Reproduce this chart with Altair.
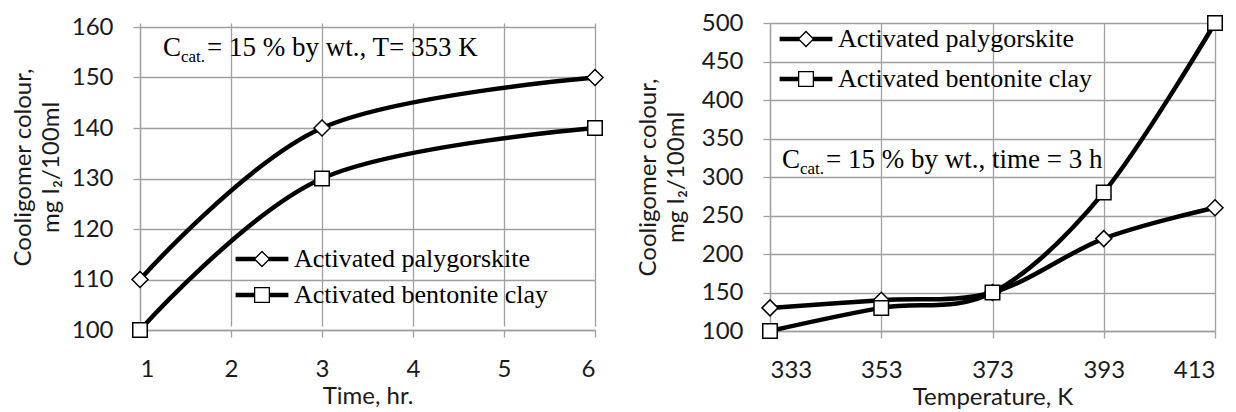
import altair as alt
import pandas as pd

# ---------------- data ----------------
series_names = ["Activated palygorskite", "Activated bentonite clay"]

time_hr = [1, 3, 6]
paly_time = [110, 140, 150]
bento_time = [100, 130, 140]

temp_k = [333, 353, 373, 393, 413]
paly_temp = [130, 140, 150, 220, 260]
bento_temp = [100, 130, 150, 280, 500]

time_ticks = [1, 2, 3, 4, 5, 6]
time_y_ticks = [100, 110, 120, 130, 140, 150, 160]
temp_ticks = [333, 353, 373, 393, 413]
temp_y_ticks = [100, 150, 200, 250, 300, 350, 400, 450, 500]

x_title_left = "Time, hr."
x_title_right = "Temperature, K"
y_title = ["Cooligomer colour,", "mg I\u2082/100ml"]

ann_left = ["C", "cat.", " = 15 % by wt., T= 353 K"]
ann_right = ["C", "cat.", " = 15 % by wt., time = 3 h"]

df_time = pd.DataFrame({
    "x": time_hr + time_hr,
    "y": paly_time + bento_time,
    "series": [series_names[0]] * len(time_hr) + [series_names[1]] * len(time_hr),
})
df_temp = pd.DataFrame({
    "x": temp_k + temp_k,
    "y": paly_temp + bento_temp,
    "series": [series_names[0]] * len(temp_k) + [series_names[1]] * len(temp_k),
})

# legend symbols: thick line + hollow marker (unit box -1..1)
DIAMOND_LEG = ("M-3.3,-0.28L-0.82,-0.28L-0.82,0.28L-3.3,0.28Z "
               "M0.82,-0.28L3.3,-0.28L3.3,0.28L0.82,0.28Z "
               "M-1.05,0L0,-1.05L1.05,0L0,1.05Z "
               "M-0.82,0L0,0.82L0.82,0L0,-0.82Z")
SQUARE_LEG = ("M-3.3,-0.28L-0.92,-0.28L-0.92,0.28L-3.3,0.28Z "
              "M0.92,-0.28L3.3,-0.28L3.3,0.28L0.92,0.28Z "
              "M-1,-1L1,-1L1,1L-1,1Z "
              "M-0.84,-0.84L-0.84,0.84L0.84,0.84L0.84,-0.84Z")

SANS = "Lato"
SERIF = "Liberation Serif"
GRID = "#a0a0a0"


def panel(df, xdom, xticks, ydom, yticks, xtitle, width, height, yrange,
          leg_x, leg_y, leg_rowpad, ann, ann_pos, title_pad, title_y=None):
    yaxis_kw = dict(values=yticks, title=y_title, titleFont=SANS, titleFontSize=24,
                    titleFontWeight="normal", titleLineHeight=28, titlePadding=title_pad,
                    labelPadding=20, tickSize=7)
    if title_y is not None:
        yaxis_kw["titleY"] = title_y
    yscale = dict(domain=ydom, nice=False, zero=False)
    if yrange is not None:
        yscale["range"] = yrange
    x = alt.X("x:Q", scale=alt.Scale(domain=xdom, nice=False, zero=False),
              axis=alt.Axis(values=xticks, title=xtitle, format="d", labelPadding=20,
                            tickSize=7, titlePadding=3, titleFont=SANS,
                            titleFontSize=24, titleFontWeight="normal"))
    y = alt.Y("y:Q", scale=alt.Scale(**yscale), axis=alt.Axis(**yaxis_kw))
    base = alt.Chart(df)
    line = base.mark_line(interpolate="cardinal", color="black", strokeWidth=4.5).encode(
        x=x, y=y, detail="series:N")
    pts_d = base.transform_filter(alt.datum.series == series_names[0]).mark_point(
        shape="diamond", filled=True, fill="white", stroke="black", strokeWidth=1.5,
        size=256, opacity=1).encode(x=x, y=y)
    pts_s = base.transform_filter(alt.datum.series == series_names[1]).mark_point(
        shape="square", filled=True, fill="white", stroke="black", strokeWidth=1.5,
        size=210, opacity=1).encode(x=x, y=y)
    leg = base.mark_point(filled=True, color="black", opacity=0, size=10).encode(
        x=x, y=y,
        shape=alt.Shape("series:N",
                        scale=alt.Scale(domain=series_names, range=[DIAMOND_LEG, SQUARE_LEG]),
                        legend=alt.Legend(orient="none", legendX=leg_x, legendY=leg_y,
                                          title=None, padding=0, symbolSize=256,
                                          symbolStrokeWidth=0, symbolFillColor="black",
                                          symbolOpacity=1, labelFont=SERIF,
                                          labelFontSize=26, labelColor="black",
                                          labelLimit=500, labelOffset=19,
                                          rowPadding=leg_rowpad)))
    texts = []
    sizes = [27, 17, 27]
    for t, (px, py), fs in zip(ann, ann_pos, sizes):
        texts.append(alt.Chart(pd.DataFrame({"t": [t]})).mark_text(
            font=SERIF, fontSize=fs, align="left", baseline="alphabetic", color="black"
        ).encode(text="t:N", x=alt.value(px), y=alt.value(py)))
    return alt.layer(line, pts_d, pts_s, leg, *texts).properties(width=width, height=height)


left = panel(df_time, [1, 6], time_ticks, [100, 160], time_y_ticks, x_title_left,
             455, 307, [307, 4], 109, 223, 10, ann_left,
             [(23, 33), (41, 39), (67, 33)], 8, title_y=144)
right = panel(df_temp, [333, 413], temp_ticks, [100, 500], temp_y_ticks, x_title_right,
              445, 308, None, 23, 3, 14, ann_right,
              [(12, 145), (30, 151), (56, 145)], 13)

chart = alt.hconcat(left, right, spacing=28).resolve_scale(
    shape="independent").resolve_legend(shape="independent").configure_view(
    stroke="transparent").configure_axis(
    gridColor=GRID, gridWidth=1.3, domainColor=GRID, domainWidth=1.3,
    tickColor=GRID, tickWidth=1.3, labelFont=SANS, labelFontSize=24,
    labelColor="#1a1a1a", titleColor="#1a1a1a").properties(
    padding={"left": 2, "top": 2, "right": 0, "bottom": 0})

chart.save("out.html", embed_options={"renderer": "svg", "actions": False})
